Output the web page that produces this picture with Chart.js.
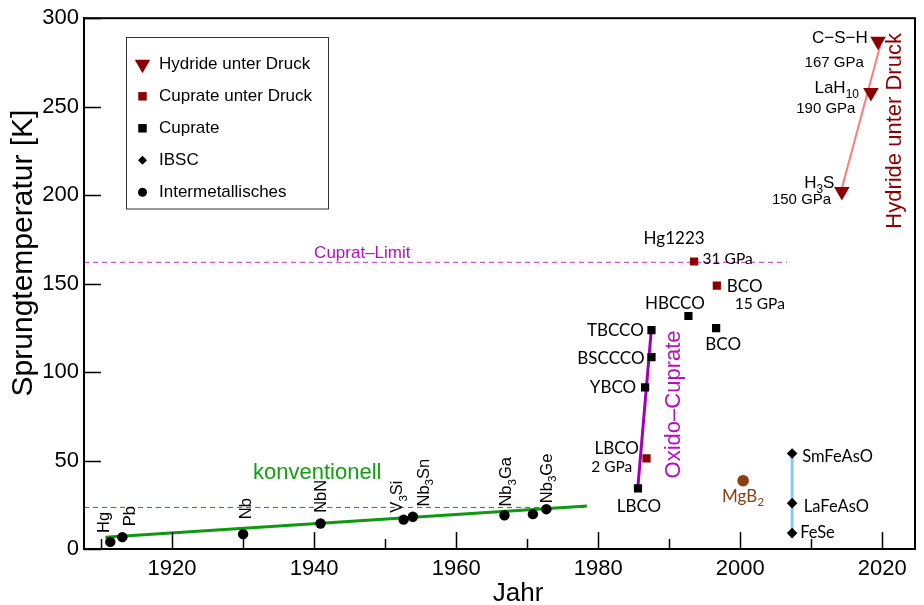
<!DOCTYPE html>
<html lang="de">
<head>
<meta charset="utf-8">
<title>Sprungtemperatur von Supraleitern</title>
<script src="https://cdn.jsdelivr.net/npm/chart.js@4.4.1/dist/chart.umd.min.js"></script>
<style>
  html, body { margin: 0; padding: 0; background: #fff; }
</style>
</head>
<body>
<canvas id="grafico" width="924" height="605"></canvas>
<script>
// Achsen
const jahrMin = 1907.6;
const jahrMax = 2024.6;
const jahrTicks = [1920, 1940, 1960, 1980, 2000, 2020];
const tcTicks = [0, 50, 100, 150, 200, 250, 300];

// Intermetallische Verbindungen ("_3" = Index)
const interNamen = ['Hg', 'Pb', 'Nb', 'NbN', 'V_3Si', 'Nb_3Sn', 'Nb_3Ga', '', 'Nb_3Ge'];
const interJahr = [1911.3, 1913.0, 1930.0, 1940.9, 1952.6, 1953.9, 1966.8, 1970.8, 1972.7];
const interTc = [4.0, 6.7, 8.4, 14.4, 16.6, 18.2, 19.1, 19.7, 22.5];

// Cuprate bei Normaldruck
const cuprNamen = ['LBCO', 'YBCO', 'BSCCCO', 'TBCCO', 'HBCCO', 'BCO'];
const cuprJahr = [1985.6, 1986.6, 1987.5, 1987.5, 1992.7, 1996.6];
const cuprTc = [34.3, 91.4, 108.5, 123.7, 131.7, 124.8];

// Cuprate unter Druck
const cuprDruckNamen = ['LBCO', 'Hg1223', 'BCO'];
const cuprDruckGPa = ['2 GPa', '31 GPa', '15 GPa'];
const cuprDruckJahr = [1986.8, 1993.5, 1996.7];
const cuprDruckTc = [51.2, 162.5, 148.8];

// Hydride unter Druck
const hydrNamen = ['H_3S', 'LaH_10', 'C\u2212S\u2212H'];
const hydrGPa = ['150 GPa', '190 GPa', '167 GPa'];
const hydrJahr = [2014.3, 2018.4, 2019.4];
const hydrTc = [202, 258, 287];

// Eisenbasierte Supraleiter
const ibscNamen = ['FeSe', 'LaFeAsO', 'SmFeAsO'];
const ibscJahr = [2007.3, 2007.3, 2007.3];
const ibscTc = [9.0, 25.9, 54.0];

// MgB2
const mgbJahr = [2000.4];
const mgbTc = [38.6];

// Trendlinien und Grenzen
const trendKonvJahr = [1910.6, 1978.4];
const trendKonvTc = [6.7, 24.3];
const trendCuprJahr = [1985.6, 1987.5];
const trendCuprTc = [36, 125];
const trendHydrJahr = [2014.3, 2019.7];
const trendHydrTc = [203.9, 284.6];
const konvLimit = 23.5;
const konvLimitEnde = 1978.1;
const cupratLimit = 162;
const cupratLimitEnde = 2006.6;

// Beschriftungsversatz in Pixeln [dx, dy, Ausrichtung]
const interVersatz = [[-1, -9], [12.7, -11], [7.7, -15], [5.7, -10.7], [-1.7, -7], [15.7, -10.3], [6.7, -8.6], [0, 0], [5.3, -6]];
const cuprVersatz = [[1, 23.5, 'center'], [-9, 6, 'right'], [-7, 7.4, 'right'], [-7.7, 5.7, 'right'], [-13.6, -6.7, 'center'], [7, 22, 'center']];
const cuprDruckVersatz = [[-7.6, -4.3, 'right'], [-20, -17, 'center'], [10, 6.3, 'left']];
const cuprDruckGPaVersatz = [[-14.3, 14, 'right'], [8.5, 2.5, 'left'], [18, 23.6, 'left']];
const hydrVersatz = [[-7.4, -3.7], [-12.1, 0.3], [-10.3, 2]];
const hydrGPaVersatz = [[-10.7, 12.9], [-15.5, 20.3], [-14.3, 25.3]];
const ibscVersatz = [[8, 5], [11.7, 8.4], [10, 8.4]];

const ARIAL = "'Liberation Sans', Arial, sans-serif";
const LATO = "Lato, 'Liberation Sans', sans-serif";
const dunkelrot = '#8b0000';
const braun = '#8b3e12';

const punkte = (xs, ys) => xs.map((x, i) => ({ x: x, y: ys[i] }));

// Text mit Indizes zeichnen: "Nb_3Sn" -> Nb, tiefgestellte 3, Sn
function zeichneText(ctx, text, x, y, size, family, align) {
  const teile = text.split(/_(\d+)/);
  let breite = 0;
  teile.forEach((t, i) => {
    ctx.font = (i % 2 ? size * 0.7 : size) + 'px ' + family;
    breite += ctx.measureText(t).width;
  });
  let pos = x;
  if (align === 'right') pos = x - breite;
  else if (align === 'center') pos = x - breite / 2;
  ctx.textAlign = 'left';
  ctx.textBaseline = 'alphabetic';
  teile.forEach((t, i) => {
    const tief = i % 2 === 1;
    ctx.font = (tief ? size * 0.7 : size) + 'px ' + family;
    ctx.fillText(t, pos, y + (tief ? size * 0.28 : 0));
    pos += ctx.measureText(t).width;
  });
}

function zeichneSenkrecht(ctx, text, x, y, size, family, align) {
  ctx.save();
  ctx.translate(x, y);
  ctx.rotate(-Math.PI / 2);
  zeichneText(ctx, text, 0, 0, size, family, align);
  ctx.restore();
}

// Rahmen und nach innen zeigende Ticks
const rahmenPlugin = {
  id: 'rahmen',
  afterDatasetsDraw(chart) {
    const { ctx, chartArea: a, scales: { x, y } } = chart;
    ctx.save();
    ctx.strokeStyle = '#000';
    ctx.lineWidth = 2;
    ctx.strokeRect(a.left, a.top, a.right - a.left, a.bottom - a.top);
    ctx.lineWidth = 1.5;
    ctx.beginPath();
    for (let j = 1910; j <= 2020; j += 10) {
      const px = Math.round(x.getPixelForValue(j)) + 0.5;
      const len = j % 20 === 0 ? 17 : 10;
      ctx.moveTo(px, a.bottom);
      ctx.lineTo(px, a.bottom - len);
    }
    tcTicks.forEach(t => {
      const py = Math.round(y.getPixelForValue(t)) + 0.5;
      ctx.moveTo(a.left, py);
      ctx.lineTo(a.left + 17, py);
    });
    ctx.stroke();

    // Achsentitel
    ctx.fillStyle = '#000';
    zeichneText(ctx, 'Jahr', 518, 601, 26, ARIAL, 'center');
    zeichneSenkrecht(ctx, 'Sprungtemperatur [K]', 32, 253, 30, ARIAL, 'center');
    ctx.restore();
  }
};

// Beschriftungen an den Messpunkten
const beschriftungPlugin = {
  id: 'beschriftung',
  afterDatasetsDraw(chart) {
    const { ctx, scales: { x, y } } = chart;
    const px = v => x.getPixelForValue(v);
    const py = v => y.getPixelForValue(v);
    ctx.save();

    ctx.fillStyle = '#000';
    interNamen.forEach((n, i) => {
      if (!n) return;
      const [dx, dy] = interVersatz[i];
      zeichneSenkrecht(ctx, n, px(interJahr[i]) + dx, py(interTc[i]) + dy, 16.5, ARIAL, 'left');
    });

    cuprNamen.forEach((n, i) => {
      const [dx, dy, al] = cuprVersatz[i];
      zeichneText(ctx, n, px(cuprJahr[i]) + dx, py(cuprTc[i]) + dy, 17, LATO, al);
    });

    cuprDruckNamen.forEach((n, i) => {
      const [dx, dy, al] = cuprDruckVersatz[i];
      zeichneText(ctx, n, px(cuprDruckJahr[i]) + dx, py(cuprDruckTc[i]) + dy, 17, LATO, al);
      const [gx, gy, gal] = cuprDruckGPaVersatz[i];
      zeichneText(ctx, cuprDruckGPa[i], px(cuprDruckJahr[i]) + gx, py(cuprDruckTc[i]) + gy, 15.5, LATO, gal);
    });

    hydrNamen.forEach((n, i) => {
      const [dx, dy] = hydrVersatz[i];
      zeichneText(ctx, n, px(hydrJahr[i]) + dx, py(hydrTc[i]) + dy, 17, ARIAL, 'right');
      const [gx, gy] = hydrGPaVersatz[i];
      zeichneText(ctx, hydrGPa[i], px(hydrJahr[i]) + gx, py(hydrTc[i]) + gy, 15, ARIAL, 'right');
    });

    ibscNamen.forEach((n, i) => {
      const [dx, dy] = ibscVersatz[i];
      zeichneText(ctx, n, px(ibscJahr[i]) + dx, py(ibscTc[i]) + dy, 16.5, LATO, 'left');
    });

    ctx.fillStyle = braun;
    zeichneText(ctx, 'MgB_2', px(mgbJahr[0]), py(mgbTc[0]) + 21, 17, LATO, 'center');

    // Gruppenbezeichnungen
    ctx.fillStyle = '#12a012';
    zeichneText(ctx, 'konventionell', px(1931.4), py(39.4), 22, ARIAL, 'left');
    ctx.fillStyle = '#b410c0';
    zeichneText(ctx, 'Cuprat\u2013Limit', px(1940.0), py(cupratLimit) - 4, 17, ARIAL, 'left');
    zeichneSenkrecht(ctx, 'Oxido\u2013Cuprate', px(1991.5), py(81.7), 22, ARIAL, 'center');
    ctx.fillStyle = dunkelrot;
    zeichneSenkrecht(ctx, 'Hydride unter Druck', px(2022.6), py(236.3), 22, ARIAL, 'center');
    ctx.restore();
  }
};

// Legende im Diagramm
const legendeEintraege = [
  { text: 'Hydride unter Druck', farbe: dunkelrot, stil: 'triangle', rot: 180, r: 9 },
  { text: 'Cuprate unter Druck', farbe: dunkelrot, stil: 'rect', rot: 0, r: 6 },
  { text: 'Cuprate', farbe: '#000', stil: 'rect', rot: 0, r: 6 },
  { text: 'IBSC', farbe: '#000', stil: 'rectRot', rot: 0, r: 4.5 },
  { text: 'Intermetallisches', farbe: '#000', stil: 'circle', rot: 0, r: 4.5 }
];

const legendePlugin = {
  id: 'legende',
  afterDraw(chart) {
    const ctx = chart.ctx;
    ctx.save();
    ctx.fillStyle = '#fff';
    ctx.fillRect(126, 37.5, 202, 171.5);
    ctx.strokeStyle = '#333';
    ctx.lineWidth = 1;
    ctx.strokeRect(126.5, 37.5, 202, 171.5);
    legendeEintraege.forEach((e, i) => {
      const ly = 64.3 + i * 32;
      ctx.fillStyle = e.farbe;
      Chart.helpers.drawPoint(ctx, { pointStyle: e.stil, rotation: e.rot, radius: e.r, borderWidth: 0 }, 142.5, ly);
      ctx.fillStyle = '#000';
      ctx.font = '17px ' + ARIAL;
      ctx.textAlign = 'left';
      ctx.textBaseline = 'middle';
      ctx.fillText(e.text, 159, ly);
    });
    ctx.restore();
  }
};

const linie = (daten, farbe, breite, dash) => ({
  data: daten,
  showLine: true,
  borderColor: farbe,
  borderWidth: breite,
  borderDash: dash || [],
  pointRadius: 0,
  fill: false
});

const marker = (daten, farbe, stil, r, rot) => ({
  data: daten,
  pointStyle: stil,
  pointRadius: r,
  rotation: rot || 0,
  pointBackgroundColor: farbe,
  pointBorderColor: farbe,
  pointBorderWidth: 0,
  showLine: false
});

new Chart(document.getElementById('grafico'), {
  type: 'scatter',
  data: {
    datasets: [
      marker(punkte(hydrJahr, hydrTc), dunkelrot, 'triangle', 9, 180),
      marker(punkte(cuprDruckJahr, cuprDruckTc), dunkelrot, 'rect', 5.8),
      marker(punkte(cuprJahr, cuprTc), '#000', 'rect', 5.8),
      marker(punkte(ibscJahr, ibscTc), '#000', 'rectRot', 5.3),
      marker(punkte(interJahr, interTc), '#000', 'circle', 5.2),
      marker(punkte(mgbJahr, mgbTc), braun, 'circle', 5.8),
      linie(punkte(trendKonvJahr, trendKonvTc), '#0f990f', 3),
      linie(punkte(trendCuprJahr, trendCuprTc), '#a000b4', 3),
      linie(punkte(trendHydrJahr, trendHydrTc), '#ff7b7b', 2),
      linie(punkte([ibscJahr[0], ibscJahr[2]], [ibscTc[0], ibscTc[2]]), '#87c8f5', 3),
      linie(punkte([jahrMin, konvLimitEnde], [konvLimit, konvLimit]), '#1a8f1a', 1, [5, 4]),
      linie(punkte([jahrMin, cupratLimitEnde], [cupratLimit, cupratLimit]), '#d055d8', 1.3, [5, 4])
    ]
  },
  options: {
    responsive: false,
    animation: false,
    events: [],
    layout: { padding: { top: 14, right: 5, left: 0, bottom: 0 } },
    plugins: { legend: { display: false }, tooltip: { enabled: false } },
    scales: {
      x: {
        type: 'linear',
        min: jahrMin,
        max: jahrMax,
        grid: { display: false, drawTicks: false },
        border: { display: true, color: '#000', width: 2 },
        ticks: {
          font: { family: ARIAL, size: 22 }, color: '#000', padding: 7, maxRotation: 0, autoSkip: false,
          callback: v => String(v)
        },
        afterBuildTicks: s => { s.ticks = jahrTicks.map(v => ({ value: v })); },
        afterFit: s => { s.height = 56; s.paddingLeft = 0; s.paddingRight = 0; }
      },
      y: {
        min: 0,
        max: 300,
        grid: { display: false, drawTicks: false },
        border: { display: true, color: '#000', width: 2 },
        ticks: { font: { family: ARIAL, size: 22 }, color: '#000', padding: 5, callback: v => String(v) },
        afterBuildTicks: s => { s.ticks = tcTicks.map(v => ({ value: v })); },
        afterFit: s => { s.width = 84; }
      }
    }
  },
  plugins: [rahmenPlugin, beschriftungPlugin, legendePlugin]
});
</script>
</body>
</html>
